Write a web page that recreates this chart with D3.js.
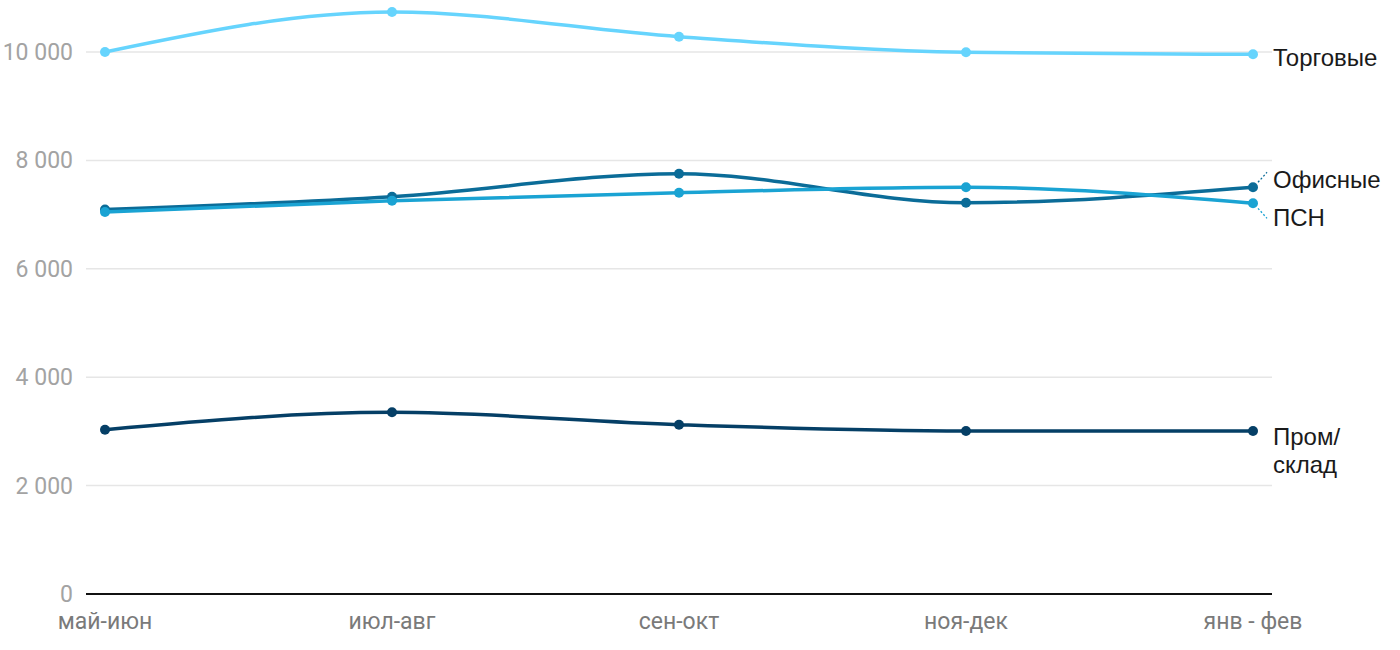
<!DOCTYPE html>
<html><head><meta charset="utf-8">
<script src="https://cdn.jsdelivr.net/npm/d3@7"></script>
<style>body{margin:0;background:#fff}svg{display:block}</style>
</head><body>
<svg id="c" width="1400" height="650"></svg>
<script>
const categories = ["май-июн","июл-авг","сен-окт","ноя-дек","янв - фев"];
const torgovye = [10000, 10738, 10283, 9994, 9957];
const ofisnye = [7094, 7330, 7755, 7219, 7504];
const psn = [7048, 7256, 7404, 7504, 7208];
const prom = [3031, 3352, 3124, 3007, 3007];
const yTicks = [0, 2000, 4000, 6000, 8000, 10000];

const series = [
  {name:["Торговые"], values: torgovye, color:"#66d4fd", ly:58},
  {name:["Офисные"], values: ofisnye, color:"#0b6c98", ly:180, lead:-1},
  {name:["ПСН"], values: psn, color:"#1aa3d3", ly:218, lead:1},
  {name:["Пром/","склад"], values: prom, color:"#053f66", ly:437}
];

const svg = d3.select("#c");
const x = d3.scalePoint().domain(categories).range([105, 1253]);
const y = d3.scaleLinear().domain([0, 10000]).range([594, 52]);
const fmt = v => d3.format(",")(v).replace(/,/g, " ");

svg.append("g").selectAll("line").data(yTicks.filter(t=>t>0)).join("line")
  .attr("x1", 86).attr("x2", 1272)
  .attr("y1", d=>y(d)).attr("y2", d=>y(d))
  .attr("stroke", "#e6e6e6").attr("stroke-width", 1.5);

svg.append("g").selectAll("text").data(yTicks).join("text")
  .attr("x", 73).attr("y", d=>y(d)).attr("dy","0.35em")
  .attr("text-anchor","end").attr("font-family","Roboto")
  .attr("font-size", 23).attr("fill","#a3a3a3").text(fmt);

svg.append("line").attr("x1",86).attr("x2",1272).attr("y1",y(0)).attr("y2",y(0))
  .attr("stroke","#111").attr("stroke-width",2);

svg.append("g").selectAll("text").data(categories).join("text")
  .attr("x", d=>x(d)).attr("y", 621).attr("dy","0.35em")
  .attr("text-anchor","middle").attr("font-family","Roboto")
  .attr("font-size", 23).attr("fill","#7a7a7a").text(d=>d);

const line = d3.line().x((d,i)=>x(categories[i])).y(d=>y(d)).curve(d3.curveMonotoneX);

series.forEach(s => {
  const g = svg.append("g");
  g.append("path").attr("d", line(s.values)).attr("fill","none")
    .attr("stroke", s.color).attr("stroke-width", 3.5);
  g.selectAll("circle").data(s.values).join("circle")
    .attr("cx",(d,i)=>x(categories[i])).attr("cy", d=>y(d)).attr("r",5)
    .attr("fill", s.color);
  const lx = x(categories[categories.length-1]);
  const ly = y(s.values[s.values.length-1]);
  if (s.lead) {
    g.append("line").attr("x1", lx+5).attr("y1", ly + s.lead*5)
      .attr("x2", lx+14).attr("y2", ly + s.lead*15)
      .attr("stroke", s.color).attr("stroke-width",1.3).attr("stroke-dasharray","2,2");
  }
  const t = g.append("text").attr("x", 1273).attr("y", s.ly)
    .attr("font-family","Liberation Sans, Arial").attr("font-size", 24).attr("fill","#1a1a1a");
  s.name.forEach((n,i)=> t.append("tspan").attr("x",1273).attr("dy", i===0?"0.35em":"1.17em").text(n));
});
</script>
</body></html>
